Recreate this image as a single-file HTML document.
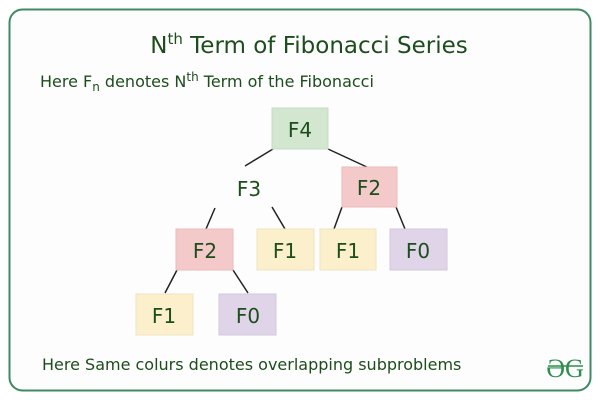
<!DOCTYPE html>
<html><head><meta charset="utf-8"><style>
html,body{margin:0;padding:0;background:#fff;width:600px;height:400px;overflow:hidden}
svg{display:block}
text{font-family:"DejaVu Sans","Liberation Sans",sans-serif;fill:#1d4d1d}
</style></head><body>
<svg width="600" height="400" viewBox="0 0 600 400" xmlns="http://www.w3.org/2000/svg">
<rect x="0" y="0" width="600" height="400" fill="#fff"/>
<rect x="9.5" y="9.5" width="581" height="381" rx="13" fill="#fdfdfd" stroke="#3d8a63" stroke-width="2"/>
<text x="309" y="53" font-size="23" text-anchor="middle">N<tspan font-size="15" dy="-9">th</tspan><tspan dy="9"> Term of Fibonacci Series</tspan></text>
<text x="40" y="87" font-size="16">Here F<tspan font-size="12" dy="4">n</tspan><tspan dy="-4"> denotes N</tspan><tspan font-size="12" dy="-6">th</tspan><tspan dy="6"> Term of the Fibonacci</tspan></text>
<g stroke="#222" stroke-width="1.5">
<line x1="273" y1="149" x2="245" y2="166"/>
<line x1="328" y1="149" x2="369" y2="168"/>
<line x1="215" y1="208" x2="206" y2="229"/>
<line x1="272" y1="207" x2="285" y2="229"/>
<line x1="342" y1="207" x2="334" y2="229"/>
<line x1="396" y1="207" x2="405" y2="229"/>
<line x1="177" y1="270" x2="165" y2="293"/>
<line x1="233" y1="270" x2="248" y2="293"/>
</g>
<g stroke-width="1">
<rect x="272" y="108" width="56" height="41" fill="#d3e6d0" stroke="#c6dcc3"/>
<rect x="342" y="167" width="55" height="40" fill="#f4c9c9" stroke="#ebbcbc"/>
<rect x="176" y="229" width="57" height="41" fill="#f4c9c9" stroke="#ebbcbc"/>
<rect x="257" y="229" width="57" height="41" fill="#fcf0cc" stroke="#f0e4c0"/>
<rect x="320" y="229" width="56" height="41" fill="#fcf0cc" stroke="#f0e4c0"/>
<rect x="390" y="229" width="57" height="41" fill="#e0d4e8" stroke="#d4c8dd"/>
<rect x="136" y="294" width="57" height="41" fill="#fcf0cc" stroke="#f0e4c0"/>
<rect x="219" y="294" width="57" height="41" fill="#e0d4e8" stroke="#d4c8dd"/>
</g>
<g font-size="20" text-anchor="middle">
<text x="300" y="137">F4</text>
<text x="249" y="196">F3</text>
<text x="369" y="195">F2</text>
<text x="205" y="258">F2</text>
<text x="285" y="258">F1</text>
<text x="348" y="258">F1</text>
<text x="418" y="258">F0</text>
<text x="164" y="323">F1</text>
<text x="248" y="323">F0</text>
</g>
<text x="42" y="370" font-size="16">Here Same colurs denotes overlapping subproblems</text>
<text x="565" y="377" font-size="26" text-anchor="middle" style="fill:#2f8d4e;font-family:'Liberation Serif',serif">ƏG</text>
<line x1="548" y1="366" x2="583" y2="366" stroke="#2f8d4e" stroke-width="1.5"/>
</svg>
</body></html>
